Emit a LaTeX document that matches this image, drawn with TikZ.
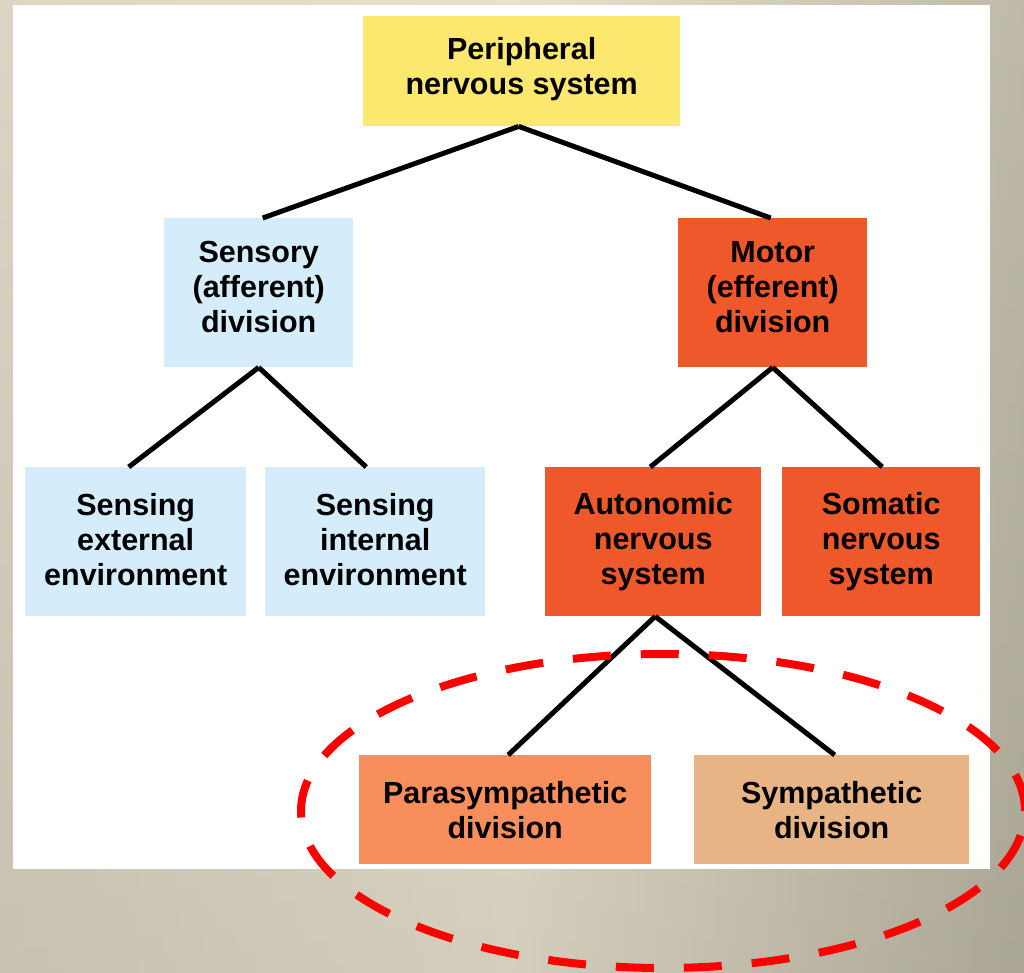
\documentclass[tikz,border=0pt]{standalone}
\usepackage{fontspec}
\setmainfont{Liberation Sans}
\definecolor{pnsyellow}{HTML}{FDE86F}
\definecolor{sensblue}{HTML}{D5EDFB}
\definecolor{motorred}{HTML}{EE582B}
\definecolor{parasym}{HTML}{F78E5C}
\definecolor{sympath}{HTML}{E8B385}
\definecolor{bgleft}{HTML}{D8D2C0}
\definecolor{bgmid}{HTML}{E6E0CD}
\definecolor{bgright}{HTML}{B9B4A1}
\definecolor{ringred}{HTML}{FF0000}
\tikzset{
  box/.style={anchor=north west, inner sep=0pt, align=center,
    font=\fontsize{30.5}{35}\selectfont\bfseries, text=black},
  link/.style={line width=5pt, black},
}
\begin{document}
\begin{tikzpicture}[x=1pt, y=-1pt]
  % backdrop
  \shade[left color=bgleft, right color=bgright, middle color=bgmid]
    (0,0) rectangle (1024,973);
  \shade[top color=white, bottom color=black, opacity=0.08]
    (0,0) rectangle (1024,973);
  \useasboundingbox (0,0) rectangle (1024,973);
  % white sheet
  \fill[white] (13,5) rectangle (990,869);

  % boxes
  \node[box, fill=pnsyellow, minimum width=317pt, minimum height=110pt, text depth=10pt] (pns) at (363,16)
    {Peripheral\\nervous system};
  \node[box, fill=sensblue, minimum width=189pt, minimum height=149pt, text depth=12pt] (sens) at (164,218)
    {Sensory\\(afferent)\\division};
  \node[box, fill=motorred, minimum width=189pt, minimum height=149pt, text depth=12pt] (mot) at (678,218)
    {Motor\\(efferent)\\division};
  \node[box, fill=sensblue, minimum width=221pt, minimum height=149pt, text depth=4pt] (ext) at (25,467)
    {Sensing\\external\\environment};
  \node[box, fill=sensblue, minimum width=220pt, minimum height=149pt, text depth=4pt] (int) at (265,467)
    {Sensing\\internal\\environment};
  \node[box, fill=motorred, minimum width=216pt, minimum height=149pt] (ans) at (545,467)
    {Autonomic\\nervous\\system};
  \node[box, fill=motorred, minimum width=198pt, minimum height=149pt] (sns) at (782,467)
    {Somatic\\nervous\\system};
  \node[box, fill=parasym, minimum width=292pt, minimum height=109pt] (para) at (359,755)
    {Parasympathetic\\division};
  \node[box, fill=sympath, minimum width=275pt, minimum height=109pt] (symp) at (694,755)
    {Sympathetic\\division};

  % connectors
  \draw[link] ([xshift=-3pt]pns.south) -- ([xshift=4pt]sens.north);
  \draw[link] ([xshift=-3pt]pns.south) -- ([xshift=-2pt]mot.north);
  \draw[link] (sens.south) -- ([xshift=-7pt]ext.north);
  \draw[link] (sens.south) -- ([xshift=-9pt]int.north);
  \draw[link] (mot.south) -- ([xshift=-3pt]ans.north);
  \draw[link] (mot.south) -- ([xshift=1pt]sns.north);
  \draw[link] ([xshift=2pt]ans.south) -- ([xshift=3pt]para.north);
  \draw[link] ([xshift=2pt]ans.south) -- ([xshift=3pt]symp.north);

  % highlight ring
  \draw[ringred, line width=8pt, dash pattern=on 38pt off 30pt]
    (663,811) ellipse [x radius=362pt, y radius=157pt];
\end{tikzpicture}
\end{document}
